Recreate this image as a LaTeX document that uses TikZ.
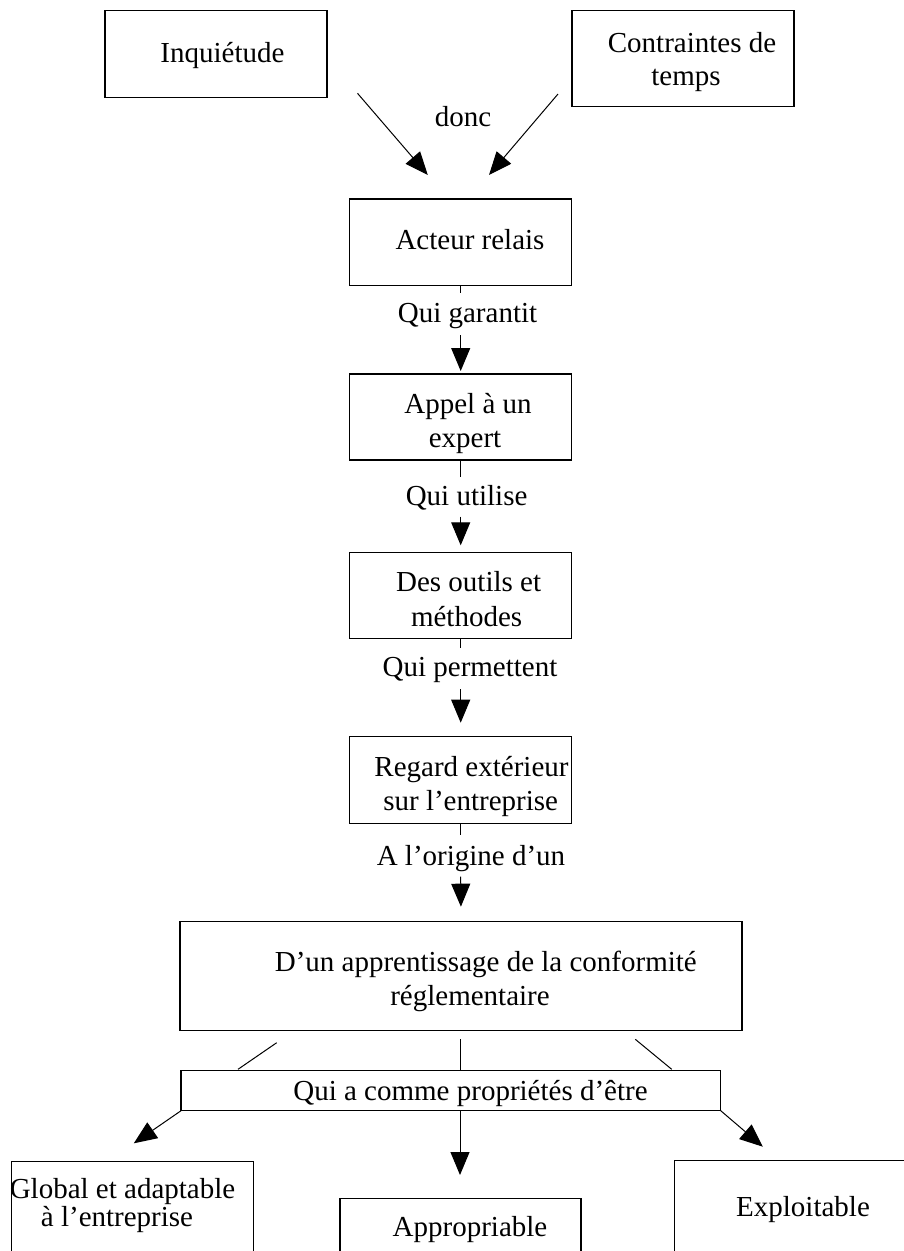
\documentclass[tikz,border=0pt]{standalone}
\usepackage{fontspec}
\setmainfont{Liberation Serif}
\usetikzlibrary{arrows.meta}
\begin{document}
\begin{tikzpicture}[x=1pt,y=-1pt,
  box/.style={draw, line width=1.3pt, inner sep=0pt, outer sep=0pt},
  txt/.style={inner sep=0pt, anchor=base, font=\fontsize{29}{34}\selectfont},
  conn/.style={line width=1pt},
  arr/.style={line width=1pt, -{Triangle[length=23pt,width=19pt]}},
]
\useasboundingbox (0,0) rectangle (904,1251);
\clip (0,0) rectangle (904,1251);
% boxes
\node[box, minimum width=222pt, minimum height=86.6pt] (inq) at (216,54) {};
\node[box, minimum width=222pt, minimum height=95.6pt] (cont) at (683,58.5) {};
\node[box, minimum width=222pt, minimum height=86.7pt] (acteur) at (460.7,242.3) {};
\node[box, minimum width=222pt, minimum height=86pt] (appel) at (460.7,417) {};
\node[box, minimum width=222pt, minimum height=86pt] (outils) at (460.7,595.3) {};
\node[box, minimum width=222pt, minimum height=86.6pt] (regard) at (460.7,780) {};
\node[box, minimum width=562pt, minimum height=108.6pt] (big) at (461,976) {};
\node[box, minimum width=539.7pt, minimum height=40pt] (qui) at (450.9,1090.7) {};
\node[box, minimum width=242.2pt, minimum height=130pt] (glob) at (132.6,1226.7) {};
\node[box, minimum width=241pt, minimum height=95pt] (appr) at (460.5,1245.8) {};
\node[box, minimum width=250pt, minimum height=130pt] (expl) at (799.5,1225.7) {};
% texts
\node[txt] (t1) at (222.5,62) {Inquiétude};
\node[txt] (t2a) at (692,52) {Contraintes de};
\node[txt] (t2b) at (686,85) {temps};
\node[txt] (donc) at (463,126) {donc};
\node[txt] (t3) at (470,249) {Acteur relais};
\node[txt] (l1) at (467.5,322.7) {Qui garantit};
\node[txt] (t4a) at (468,413) {Appel à un};
\node[txt] (t4b) at (465,447) {expert};
\node[txt] (l2) at (466.6,505) {Qui utilise};
\node[txt] (t5a) at (468.6,591.7) {Des outils et};
\node[txt] (t5b) at (466.6,626) {méthodes};
\node[txt] (l3) at (470,676.7) {Qui permettent};
\node[txt] (t6a) at (471.5,776) {Regard extérieur};
\node[txt] (t6b) at (470.7,810) {sur l’entreprise};
\node[txt] (l4) at (471,865) {A l’origine d’un};
\node[txt] (t7a) at (485.8,971) {D’un apprentissage de la conformité};
\node[txt] (t7b) at (470,1005) {réglementaire};
\node[txt] (t8) at (470.5,1100) {Qui a comme propriétés d’être};
\node[txt] (t9a) at (122.5,1198) {Global et adaptable};
\node[txt] (t9b) at (117,1226.7) {à l’entreprise};
\node[txt] (t10) at (470,1236.7) {Appropriable};
\node[txt] (t11) at (803,1216.7) {Exploitable};
% coordinates
\coordinate (a1s) at (357.5,93.3);
\coordinate (a1e) at (427.8,175);
\coordinate (a2s) at (558,94);
\coordinate (a2e) at (489,175);
\coordinate (s1) at (460.7,293);
\coordinate (g1) at (460.7,335);
\coordinate (s2) at (460.7,476.7);
\coordinate (g2) at (460.7,516.7);
\coordinate (s3) at (460.7,647.7);
\coordinate (g3) at (460.7,689);
\coordinate (s4) at (460.7,835);
\coordinate (g4) at (460.7,876.7);
\coordinate (b1s) at (276.7,1042.7);
\coordinate (b1e) at (238,1069.3);
\coordinate (b2s) at (460,1039.3);
\coordinate (b2e) at (460,1070.7);
\coordinate (b3s) at (635.3,1039.3);
\coordinate (b3e) at (671.7,1069.3);
\coordinate (c2s) at (460,1110.7);
\coordinate (c1e) at (133.8,1143.3);
\coordinate (c2e) at (460,1175);
\coordinate (c3e) at (762.8,1146.7);
% connectors
\draw[arr] (a1s) -- (a1e);
\draw[arr] (a2s) -- (a2e);
\draw[conn] (acteur.south) -- (s1);
\draw[arr, shorten >=3pt] (g1) -- (appel.north);
\draw[conn] (appel.south) -- (s2);
\draw[arr, shorten >=7pt] (g2) -- (outils.north);
\draw[conn] (outils.south) -- (s3);
\draw[arr, shorten >=14pt] (g3) -- (regard.north);
\draw[conn] (regard.south) -- (s4);
\draw[arr, shorten >=15pt] (g4) -- (big.north);
\draw[conn] (b1s) -- (b1e);
\draw[conn] (b2s) -- (b2e);
\draw[conn] (b3s) -- (b3e);
\draw[arr] (qui.south west) -- (c1e);
\draw[arr] (c2s) -- (c2e);
\draw[arr] (qui.south east) -- (c3e);
\end{tikzpicture}
\end{document}
